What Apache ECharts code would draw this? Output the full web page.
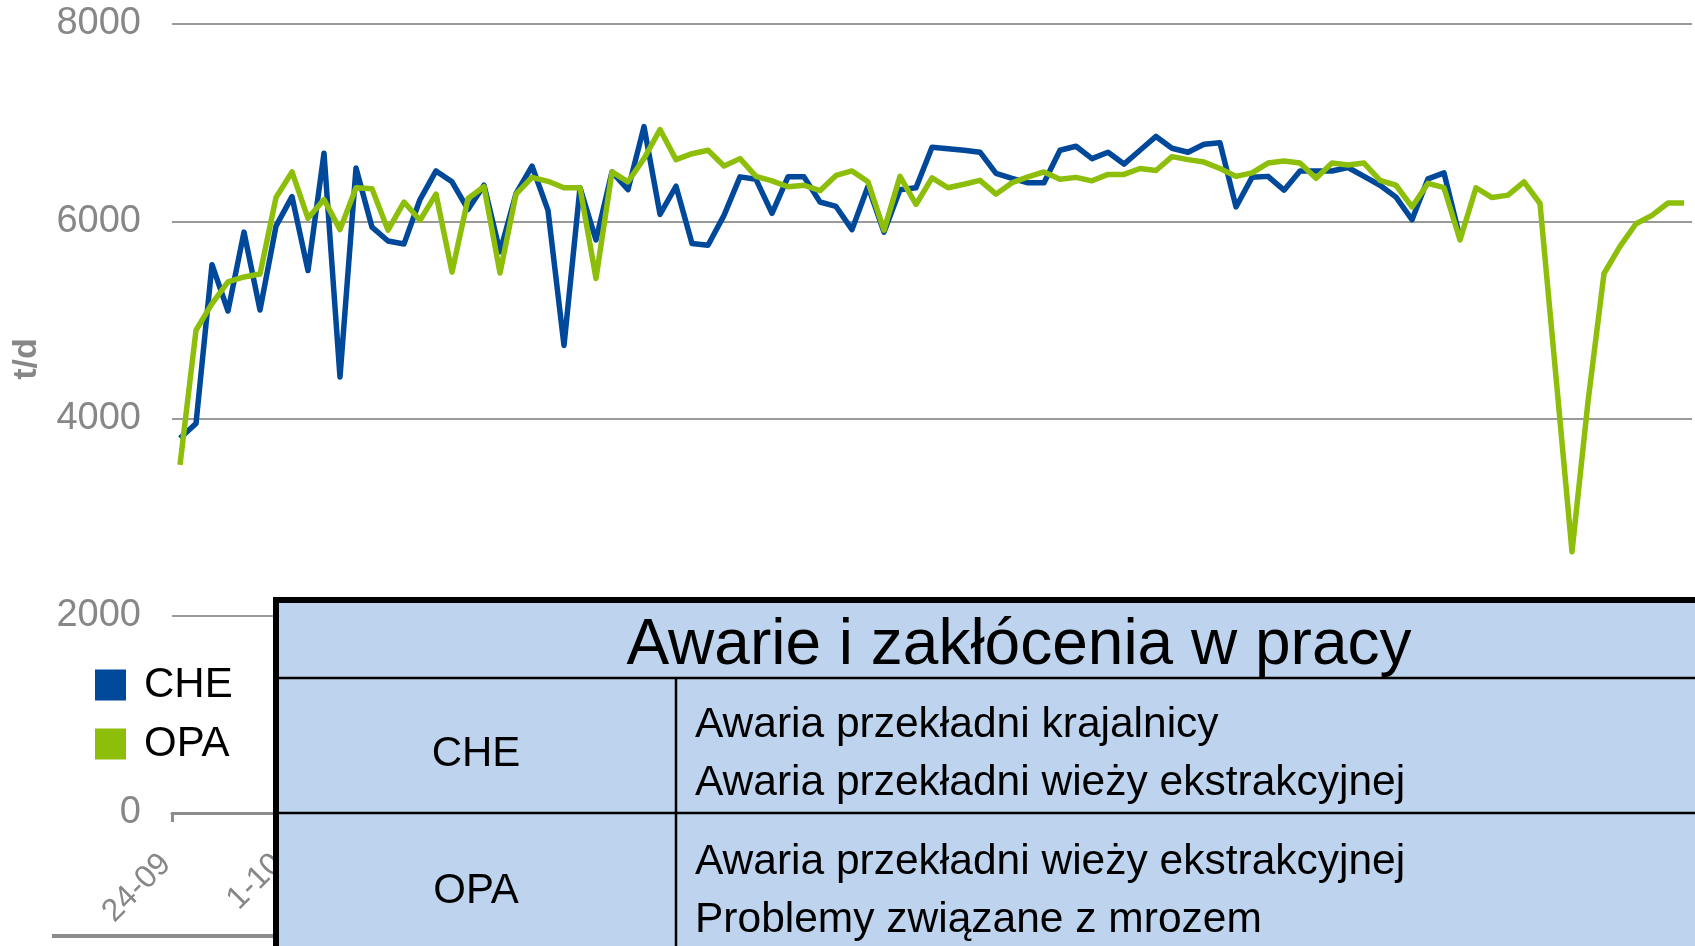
<!DOCTYPE html>
<html>
<head>
<meta charset="utf-8">
<script src="https://cdn.jsdelivr.net/npm/echarts@6/dist/echarts.min.js"></script>
<style>
html,body{margin:0;padding:0;background:#fff;}
#chart{width:1695px;height:946px;}
</style>
</head>
<body>
<div id="chart"></div>
<script>
const categories = [
  "24-09","25-09","26-09","27-09","28-09","29-09","30-09",
  "1-10","2-10","3-10","4-10","5-10","6-10","7-10","8-10","9-10","10-10",
  "11-10","12-10","13-10","14-10","15-10","16-10","17-10","18-10","19-10","20-10",
  "21-10","22-10","23-10","24-10","25-10","26-10","27-10","28-10","29-10","30-10","31-10",
  "1-11","2-11","3-11","4-11","5-11","6-11","7-11","8-11","9-11","10-11",
  "11-11","12-11","13-11","14-11","15-11","16-11","17-11","18-11","19-11","20-11",
  "21-11","22-11","23-11","24-11","25-11","26-11","27-11","28-11","29-11","30-11",
  "1-12","2-12","3-12","4-12","5-12","6-12","7-12","8-12","9-12","10-12",
  "11-12","12-12","13-12","14-12","15-12","16-12","17-12","18-12","19-12","20-12",
  "21-12","22-12","23-12","24-12","25-12","26-12","27-12"
];

const cheValues = [
  3800, 3950, 5560, 5090, 5890, 5100, 5950, 6250, 5500, 6690,
  4420, 6540, 5940, 5800, 5770, 6220, 6510, 6400, 6120, 6365,
  5690, 6280, 6560, 6110, 4740, 6340, 5810, 6500, 6320, 6960,
  6070, 6355, 5775, 5757, 6060, 6450, 6425, 6080, 6450, 6450,
  6195, 6150, 5915, 6355, 5890, 6320, 6340, 6750, 6735, 6720,
  6700, 6485, 6435, 6390, 6390, 6720, 6760, 6635, 6700, 6580,
  6720, 6860, 6740, 6700, 6780, 6795, 6145, 6445, 6455, 6315,
  6510, 6510, 6510, 6545, 6455, 6365, 6245, 6015, 6430, 6490,
  5830, null, null, null, null, null, null, null, null, null,
  null, null, null, null, null
];

const opaValues = [
  3530, 4895, 5165, 5385, 5435, 5465, 6240, 6500, 6030, 6220,
  5915, 6340, 6330, 5910, 6195, 6010, 6275, 5485, 6230, 6350,
  5475, 6275, 6445, 6405, 6340, 6340, 5420, 6500, 6400, 6635,
  6930, 6625, 6685, 6720, 6560, 6635, 6455, 6410, 6350, 6365,
  6310, 6465, 6510, 6400, 5910, 6455, 6170, 6440, 6340, 6375,
  6415, 6275, 6390, 6450, 6500, 6425, 6445, 6410, 6475, 6475,
  6535, 6515, 6655, 6625, 6600, 6535, 6455, 6490, 6590, 6610,
  6590, 6435, 6590, 6570, 6590, 6415, 6365, 6145, 6385, 6340,
  5810, 6340, 6240, 6265, 6400, 6180, 4420, 2650, 4170, 5470,
  5745, 5975, 6060, 6185, 6185
];

const seriesNames = ["CHE", "OPA"];
const yTicks = { min: 0, max: 8000, interval: 2000 };
const yAxisName = "t/d";

const tableTitle = "Awarie i zakłócenia w pracy";
const tableRows = [
  { name: "CHE", items: ["Awaria przekładni krajalnicy", "Awaria przekładni wieży ekstrakcyjnej"] },
  { name: "OPA", items: ["Awaria przekładni wieży ekstrakcyjnej", "Problemy związane z mrozem"] }
];

const FONT = "'Liberation Sans', Arial, sans-serif";
const GREY = "#878787";

const chart = echarts.init(document.getElementById('chart'), null, { renderer: 'canvas' });

const graphics = [
  { type: 'line', z: 50, shape: { x1: 52, y1: 936, x2: 290, y2: 936 }, style: { stroke: '#8c8c8c', lineWidth: 4 } },
  { type: 'text', z: 50, x: 27, y: 359, rotation: Math.PI / 2,
    style: { text: yAxisName, font: "bold 34px " + FONT, fill: GREY, align: 'center', verticalAlign: 'middle' } },
  { type: 'rect', z: 100, shape: { x: 276, y: 600, width: 1600, height: 600 },
    style: { fill: '#BED3EE', stroke: '#000', lineWidth: 6 } },
  { type: 'line', z: 101, shape: { x1: 276, y1: 678, x2: 1700, y2: 678 }, style: { stroke: '#000', lineWidth: 2.5 } },
  { type: 'line', z: 101, shape: { x1: 276, y1: 813, x2: 1700, y2: 813 }, style: { stroke: '#000', lineWidth: 2.5 } },
  { type: 'line', z: 101, shape: { x1: 676, y1: 678, x2: 676, y2: 960 }, style: { stroke: '#000', lineWidth: 2.5 } },
  { type: 'text', z: 102, x: 1019, y: 646,
    style: { text: tableTitle, font: "64px " + FONT, fill: '#000', align: 'center', verticalAlign: 'middle' } }
];
const rowCenters = [754, 891];
const lineYs = [[725, 783], [862, 920]];
tableRows.forEach((row, r) => {
  graphics.push({ type: 'text', z: 102, x: 476, y: rowCenters[r],
    style: { text: row.name, font: "42px " + FONT, fill: '#000', align: 'center', verticalAlign: 'middle' } });
  row.items.forEach((t, k) => {
    graphics.push({ type: 'text', z: 102, x: 695, y: lineYs[r][k],
      style: { text: t, font: "42.5px " + FONT, fill: '#000', align: 'left', verticalAlign: 'middle' } });
  });
});

const option = {
  animation: false,
  backgroundColor: '#ffffff',
  textStyle: { fontFamily: FONT },
  grid: { left: 172, top: 24, width: 1520, height: 789, containLabel: false },
  legend: {
    orient: 'vertical', left: 90, top: 659, itemWidth: 31, itemHeight: 31, itemGap: 17,
    icon: 'rect',
    data: seriesNames,
    textStyle: { fontSize: 42, color: '#000', fontFamily: FONT, padding: [0, 0, 0, 13] }
  },
  xAxis: {
    type: 'category', boundaryGap: true, data: categories,
    axisLine: { show: true, lineStyle: { color: '#8c8c8c', width: 3 } },
    axisTick: { show: true, interval: 6, length: 9, lineStyle: { color: '#8c8c8c', width: 3 } },
    axisLabel: { interval: 6, rotate: 45, fontSize: 32, color: GREY, margin: 32, padding: [0, 20, 0, 0], fontFamily: FONT },
    splitLine: { show: false }
  },
  yAxis: {
    type: 'value', min: yTicks.min, max: yTicks.max, interval: yTicks.interval,
    axisLine: { show: false }, axisTick: { show: false },
    axisLabel: { fontSize: 38, color: GREY, margin: 31, fontFamily: FONT, formatter: v => String(v) },
    splitLine: { lineStyle: { color: '#9a9a9a', width: 2 } }
  },
  series: [
    { name: seriesNames[0], type: 'line', data: cheValues, symbol: 'none', connectNulls: false,
      itemStyle: { color: '#00489A' }, lineStyle: { color: '#00489A', width: 5.5, join: 'round' }, z: 3 },
    { name: seriesNames[1], type: 'line', data: opaValues, symbol: 'none', connectNulls: false,
      itemStyle: { color: '#8CBE0A' }, lineStyle: { color: '#8CBE0A', width: 5.5, join: 'round' }, z: 4 }
  ],
  graphic: graphics
};
chart.setOption(option);
</script>
</body>
</html>
